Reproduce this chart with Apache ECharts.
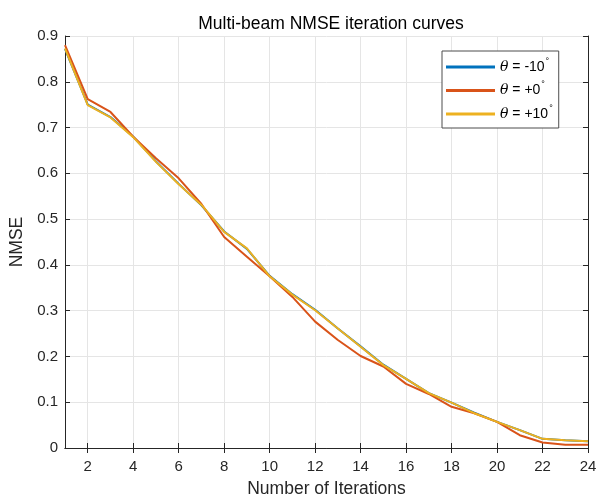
<!DOCTYPE html>
<html>
<head>
<meta charset="utf-8">
<script src="https://cdn.jsdelivr.net/npm/echarts@6/dist/echarts.min.js"></script>
<style>
  html, body { margin: 0; padding: 0; background: #fff; }
  #chart { width: 597px; height: 496px; }
</style>
</head>
<body>
<div id="chart"></div>
<script>
// iteration numbers
const iterations = [1,2,3,4,5,6,7,8,9,10,11,12,13,14,15,16,17,18,19,20,21,22,23,24];
// NMSE per beam angle
const nmseMinus10 = [0.872,0.750,0.723,0.680,0.626,0.577,0.530,0.473,0.435,0.376,0.336,0.302,0.261,0.222,0.182,0.151,0.120,0.099,0.077,0.057,0.039,0.020,0.017,0.015];
const nmseZero    = [0.880,0.762,0.734,0.680,0.633,0.589,0.533,0.461,0.418,0.375,0.330,0.276,0.236,0.201,0.178,0.140,0.118,0.090,0.076,0.057,0.028,0.012,0.007,0.007];
const nmsePlus10  = [0.873,0.749,0.722,0.679,0.625,0.576,0.531,0.472,0.436,0.375,0.335,0.301,0.261,0.221,0.181,0.151,0.120,0.099,0.076,0.057,0.039,0.020,0.017,0.015];
const legendNames = ['m10', 'p0', 'p10'];
const legendText = {
  m10: '{i|θ} = -10{s|°}',
  p0: '{i|θ} = +0{s|°}',
  p10: '{i|θ} = +10{s|°}'
};

const font = 'Liberation Sans, Helvetica, Arial, sans-serif';
const axisColor = '#262626';
const gridColor = '#e5e5e5';

const chart = echarts.init(document.getElementById('chart'));

const evenOnly = (idx) => (idx + 1) % 2 === 0;

chart.setOption({
  animation: false,
  textStyle: { fontFamily: font },
  title: {
    text: 'Multi-beam NMSE iteration curves',
    left: 326, top: 10, textAlign: 'center',
    textStyle: { fontFamily: font, fontSize: 17.5, fontWeight: 'normal', color: '#000' }
  },
  grid: { left: 65, right: 9, top: 36, bottom: 48, containLabel: false, outerBoundsMode: 'none' },
  legend: {
    orient: 'vertical',
    left: 442, top: 51,
    padding: [6, 6, 6, 4],
    itemGap: 5.5,
    itemWidth: 49,
    itemHeight: 3,
    icon: 'rect',
    borderColor: '#4d4d4d',
    borderWidth: 1,
    backgroundColor: '#fff',
    data: legendNames,
    formatter: (name) => legendText[name],
    textStyle: {
      fontFamily: font,
      fontSize: 14,
      lineHeight: 16,
      color: '#000',
      rich: {
        i: { fontFamily: 'DejaVu Serif, serif', fontStyle: 'italic', fontSize: 14, lineHeight: 16, color: '#000' },
        s: { fontSize: 9, color: '#000', padding: [0, 0, 11, 1] }
      }
    }
  },
  xAxis: [{
    type: 'category',
    data: iterations,
    boundaryGap: false,
    name: 'Number of Iterations',
    nameLocation: 'middle',
    nameGap: 32,
    nameTextStyle: { fontFamily: font, fontSize: 17.5, color: axisColor },
    axisLine: { lineStyle: { color: axisColor, width: 1 } },
    axisTick: { show: true, inside: true, length: 5, interval: evenOnly, lineStyle: { color: axisColor } },
    axisLabel: { interval: evenOnly, fontSize: 15, color: axisColor, margin: 11, fontFamily: font },
    splitLine: { show: true, interval: evenOnly, lineStyle: { color: gridColor, width: 1 } }
  }, {
    type: 'category',
    data: iterations,
    boundaryGap: false,
    position: 'top',
    axisLine: { lineStyle: { color: axisColor, width: 1 } },
    axisTick: { show: true, inside: true, length: 5, interval: evenOnly, lineStyle: { color: axisColor } },
    axisLabel: { show: false },
    splitLine: { show: false }
  }],
  yAxis: [{
    type: 'value',
    min: 0, max: 0.9, interval: 0.1,
    name: 'NMSE',
    nameLocation: 'middle',
    nameGap: 36,
    nameTextStyle: { fontFamily: font, fontSize: 17.5, color: axisColor },
    axisLine: { show: true, lineStyle: { color: axisColor, width: 1 } },
    axisTick: { show: true, inside: true, length: 5, lineStyle: { color: axisColor } },
    axisLabel: { fontSize: 15, color: axisColor, margin: 7, fontFamily: font,
      formatter: (v) => String(Math.round(v * 10) / 10) },
    splitLine: { show: true, lineStyle: { color: gridColor, width: 1 } }
  }, {
    type: 'value',
    min: 0, max: 0.9, interval: 0.1,
    position: 'right',
    axisLine: { show: true, lineStyle: { color: axisColor, width: 1 } },
    axisTick: { show: true, inside: true, length: 5, lineStyle: { color: axisColor } },
    axisLabel: { show: false },
    splitLine: { show: false }
  }],
  series: [
    { name: 'm10', type: 'line', data: nmseMinus10, symbol: 'none',
      lineStyle: { width: 2, color: '#0072bd' }, itemStyle: { color: '#0072bd' } },
    { name: 'p0', type: 'line', data: nmseZero, symbol: 'none',
      lineStyle: { width: 2, color: '#d95319' }, itemStyle: { color: '#d95319' } },
    { name: 'p10', type: 'line', data: nmsePlus10, symbol: 'none',
      lineStyle: { width: 2, color: '#edb120' }, itemStyle: { color: '#edb120' } }
  ]
});
</script>
</body>
</html>
